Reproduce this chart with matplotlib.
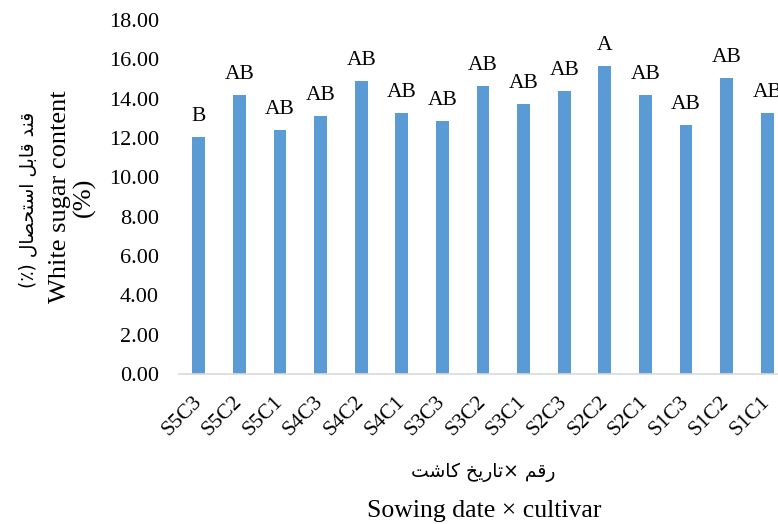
import matplotlib
matplotlib.use('Agg')
import matplotlib.pyplot as plt

# data
categories = ['S5C3', 'S5C2', 'S5C1', 'S4C3', 'S4C2', 'S4C1', 'S3C3', 'S3C2',
              'S3C1', 'S2C3', 'S2C2', 'S2C1', 'S1C3', 'S1C2', 'S1C1']
white_sugar = [12.05, 14.18, 12.40, 13.12, 14.90, 13.27, 12.86, 14.64,
               13.73, 14.39, 15.66, 14.18, 12.66, 15.05, 13.27]
letters = ['B', 'AB', 'AB', 'AB', 'AB', 'AB', 'AB', 'AB',
           'AB', 'AB', 'A', 'AB', 'AB', 'AB', 'AB']
yticks = [0, 2, 4, 6, 8, 10, 12, 14, 16, 18]

# minimal arabic shaping (matplotlib does not join or reorder arabic)
FORMS = {
    'ق': (0xFED5, 0xFED6, 0xFED7, 0xFED8), 'ن': (0xFEE5, 0xFEE6, 0xFEE7, 0xFEE8),
    'د': (0xFEA9, 0xFEAA, None, None), 'ا': (0xFE8D, 0xFE8E, None, None),
    'ب': (0xFE8F, 0xFE90, 0xFE91, 0xFE92), 'ل': (0xFEDD, 0xFEDE, 0xFEDF, 0xFEE0),
    'س': (0xFEB1, 0xFEB2, 0xFEB3, 0xFEB4), 'ت': (0xFE95, 0xFE96, 0xFE97, 0xFE98),
    'ح': (0xFEA1, 0xFEA2, 0xFEA3, 0xFEA4), 'ص': (0xFEB9, 0xFEBA, 0xFEBB, 0xFEBC),
    'ر': (0xFEAD, 0xFEAE, None, None), 'م': (0xFEE1, 0xFEE2, 0xFEE3, 0xFEE4),
    'ی': (0xFBFC, 0xFBFD, 0xFEF3, 0xFEF4), 'خ': (0xFEA5, 0xFEA6, 0xFEA7, 0xFEA8),
    'ک': (0xFB8E, 0xFB8F, 0xFEDB, 0xFEDC), 'ش': (0xFEB5, 0xFEB6, 0xFEB7, 0xFEB8),
}
MIRROR = {'(': ')', ')': '('}


def visual(text):
    out = []
    for i, ch in enumerate(text):
        if ch not in FORMS:
            out.append(MIRROR.get(ch, ch))
            continue
        prev = text[i - 1] if i > 0 else ''
        nxt = text[i + 1] if i + 1 < len(text) else ''
        join_prev = prev in FORMS and FORMS[prev][2] is not None
        join_next = nxt in FORMS and FORMS[ch][2] is not None
        f = FORMS[ch]
        if join_prev and join_next:
            code = f[3]
        elif join_prev:
            code = f[1]
        elif join_next:
            code = f[2]
        else:
            code = f[0]
        out.append(chr(code))
    return ''.join(reversed(out))


plt.rcParams['font.family'] = ['Liberation Serif', 'DejaVu Sans']

W, H = 778, 524
fig = plt.figure(figsize=(W / 100, H / 100), dpi=100)
ax_left, ax_right, ax_top, ax_bottom = 178.5, 787.5, 20, 374
ax = fig.add_axes([ax_left / W, 1 - ax_bottom / H,
                   (ax_right - ax_left) / W, (ax_bottom - ax_top) / H])

x = list(range(len(categories)))
ax.bar(x, white_sugar, width=0.32, color='#5B9BD5')
for xi, v, lab in zip(x, white_sugar, letters):
    ax.text(xi, v + 0.8, lab, ha='center', va='baseline', fontsize=15.5)

ax.set_xlim(-0.5, len(categories) - 0.5)
ax.set_ylim(0, 18)
ax.set_yticks(yticks)
ax.set_yticklabels([f'{t:.2f}' for t in yticks], fontsize=16)
ax.set_xticks(x)
ax.set_xticklabels(categories, rotation=45, ha='right', va='center',
                   rotation_mode='anchor', fontsize=15.5)
ax.tick_params(axis='both', length=0)
ax.tick_params(axis='y', pad=14)
ax.tick_params(axis='x', pad=18)
for side in ['top', 'right', 'left']:
    ax.spines[side].set_visible(False)
ax.spines['bottom'].set_color('#d9d9d9')
ax.spines['bottom'].set_linewidth(1.2)

# axis titles
fig.text(72 / W, 1 - 197 / H, 'White sugar content\n(%)', rotation=90,
         ha='center', va='center', fontsize=19, linespacing=1.1,
         family='Liberation Serif')
fig.text(28 / W, 1 - 200 / H, visual('قند قابل استحصال (٪)'), rotation=90,
         ha='center', va='center', fontsize=13.5, family='DejaVu Sans')
fig.text(483 / W, 1 - 472 / H, visual('رقم ×تاریخ کاشت'),
         ha='center', va='center', fontsize=13.5, family='DejaVu Sans')
fig.text(484 / W, 1 - 511 / H, 'Sowing date × cultivar',
         ha='center', va='center', fontsize=18.5, family='Liberation Serif')

fig.savefig('out.png', dpi=100)
